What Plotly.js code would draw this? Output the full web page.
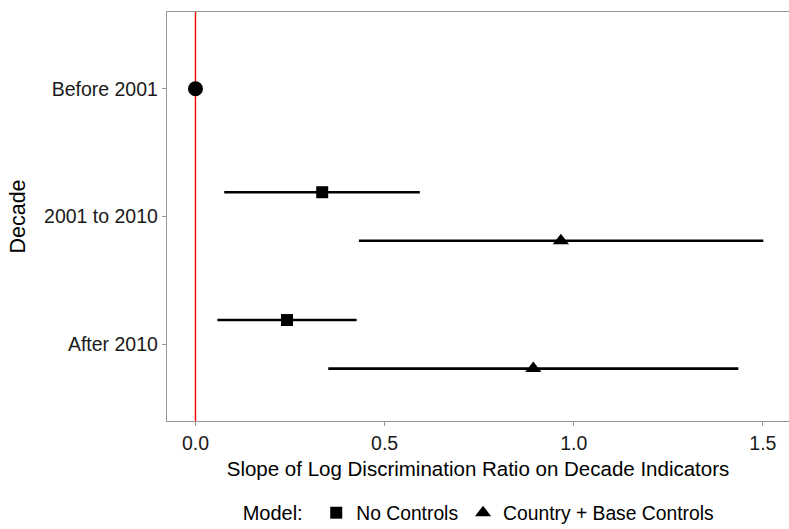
<!DOCTYPE html>
<html>
<head>
<meta charset="utf-8">
<script src="https://cdn.plot.ly/plotly-3.0.1.min.js"></script>
<style>html,body{margin:0;padding:0;background:#fff}#chart{width:789px;height:529px}</style>
</head>
<body>
<div id="chart"></div>
<script>
// Data
const decades = ["Before 2001", "2001 to 2010", "After 2010"];
const decadePos = [3, 2, 1];
const dodge = 0.19;

const baseDecade = ["Before 2001"];
const baseEst = [0];

const ncDecades = ["2001 to 2010", "After 2010"];
const ncEst = [0.335, 0.242];
const ncLow = [0.076, 0.058];
const ncHigh = [0.593, 0.426];

const cbDecades = ["2001 to 2010", "After 2010"];
const cbEst = [0.966, 0.893];
const cbLow = [0.432, 0.351];
const cbHigh = [1.501, 1.435];

const xTicks = [0, 0.5, 1.0, 1.5];
const xTickText = ["0.0", "0.5", "1.0", "1.5"];

function pos(d, off) { return decadePos[decades.indexOf(d)] + off; }

const font = "Liberation Sans, Arial, sans-serif";

const traces = [
  {
    type: "scatter", mode: "markers", showlegend: false,
    x: baseEst, y: baseDecade.map(d => pos(d, 0)),
    marker: {symbol: "circle", size: 15, color: "#000"},
    hoverinfo: "x"
  },
  {
    type: "scatter", mode: "markers", name: "No Controls",
    x: ncEst, y: ncDecades.map(d => pos(d, dodge)),
    error_x: {type: "data", symmetric: false,
      array: ncHigh.map((h, i) => h - ncEst[i]),
      arrayminus: ncLow.map((l, i) => ncEst[i] - l),
      color: "#000", thickness: 2.6, width: 0},
    marker: {symbol: "square", size: 12, color: "#000"}
  },
  {
    type: "scatter", mode: "markers", name: "Country + Base Controls",
    x: cbEst, y: cbDecades.map(d => pos(d, -dodge)),
    error_x: {type: "data", symmetric: false,
      array: cbHigh.map((h, i) => h - cbEst[i]),
      arrayminus: cbLow.map((l, i) => cbEst[i] - l),
      color: "#000", thickness: 2.6, width: 0},
    marker: {symbol: "triangle-up", size: 14, color: "#000"}
  }
];

const layout = {
  width: 789, height: 529,
  margin: {l: 167, r: 0, t: 12, b: 108},
  paper_bgcolor: "#fff", plot_bgcolor: "#fff",
  font: {family: font, color: "#000"},
  showlegend: true,
  xaxis: {
    range: [-0.0753, 1.569],
    tickvals: xTicks, ticktext: xTickText,
    showgrid: false, zeroline: false,
    showline: true, linecolor: "#969696", linewidth: 1.2, mirror: true,
    ticks: "outside", ticklen: 4, tickcolor: "#969696", tickwidth: 1,
    tickfont: {size: 19.5, color: "#1a1a1a"},
    title: {text: "Slope of Log Discrimination Ratio on Decade Indicators",
            font: {size: 20.5, color: "#000"}, standoff: 9}
  },
  yaxis: {
    range: [0.4, 3.6],
    tickvals: decadePos, ticktext: decades,
    showgrid: false, zeroline: false,
    showline: true, linecolor: "#969696", linewidth: 1.2, mirror: true,
    ticks: "outside", ticklen: 4, tickcolor: "#969696", tickwidth: 1,
    tickfont: {size: 19.5, color: "#1a1a1a"},
    title: {text: "Decade", font: {size: 21.5, color: "#000"}, standoff: 12}
  },
  shapes: [
    {type: "line", xref: "x", yref: "paper", x0: 0, x1: 0, y0: 0, y1: 1,
     line: {color: "#ff0000", width: 1.4}, layer: "below"}
  ],
  legend: {
    orientation: "h", xref: "container", yref: "container",
    x: 0.305, xanchor: "left", y: 0.03, yanchor: "middle",
    title: {text: "Model: ", font: {size: 20, color: "#000"}, side: "left"},
    font: {size: 19.3, color: "#000"},
    itemwidth: 30, tracegroupgap: 0, bgcolor: "rgba(0,0,0,0)"
  }
};

Plotly.newPlot("chart", traces, layout, {displayModeBar: false, staticPlot: true});
</script>
</body>
</html>
